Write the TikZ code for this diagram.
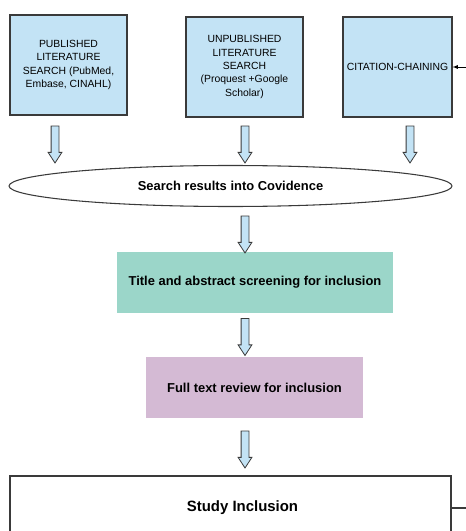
\documentclass[tikz,border=0pt]{standalone}
\usepackage{fontspec}
\setmainfont{Liberation Sans}
\usepackage{tikz}
\usetikzlibrary{shapes.geometric, shapes.arrows, arrows, positioning}
\definecolor{srcblue}{HTML}{C3E3F5}
\definecolor{screenteal}{HTML}{9BD6C9}
\definecolor{reviewpurple}{HTML}{D4BAD4}
\definecolor{edgegray}{HTML}{3A3A3A}
\tikzstyle{source} = [rectangle, minimum height=75pt, text centered, align=center, draw=edgegray, thick, fill=srcblue, font=\fontsize{7.8}{10}\selectfont, inner sep=0pt]
\tikzstyle{stage} = [rectangle, minimum height=45.75pt, text centered, draw=none, font=\fontsize{9.7}{12}\selectfont\bfseries]
\tikzstyle{flow} = [single arrow, draw=edgegray, semithick, fill=srcblue, rotate=-90, minimum height=37*0.75pt, minimum width=13*0.75pt, single arrow head extend=3*0.75pt, single arrow tip angle=66, single arrow head indent=0pt, inner xsep=0pt, inner ysep=3.5*0.75pt]
\tikzstyle{arrow} = [thin, draw=black, -latex]

\begin{document}
\begin{tikzpicture}[x=0.75pt, y=-0.75pt]
		
		\useasboundingbox (0,0) rectangle (466,531);
		\clip (0,0) rectangle (466,531);
		
		% search sources
		\node (pub) [source, minimum width=87.75pt] at (68.5,65) {PUBLISHED\\LITERATURE\\SEARCH (PubMed,\\Embase, CINAHL)};
		\node (unpub) [source, minimum width=87.75pt] at (244.5,67) {UNPUBLISHED\\LITERATURE\\SEARCH\\(Proquest +Google\\Scholar)};
		\node (cite) [source, minimum width=81.75pt] at (397.5,67) {CITATION-CHAINING};
		
		% covidence and screening
		\node (covid) [ellipse, draw=edgegray, thick, minimum width=332.25pt, minimum height=30.75pt, inner sep=0pt, font=\fontsize{9.7}{12}\selectfont\bfseries] at (230.5,186) {Search results into Covidence};
		\node (title) [stage, fill=screenteal, minimum width=207pt] at (255,282.5) {Title and abstract screening for inclusion};
		\node (full) [stage, fill=reviewpurple, minimum width=162.75pt] at (254.5,387.5) {Full text review for inclusion};
		\node (incl) [rectangle, draw=edgegray, thick, minimum width=330.75pt, minimum height=48pt, font=\fontsize{11.2}{14}\selectfont\bfseries] at (230.5,508) {\hspace*{18pt}Study Inclusion};
		
		% block arrows
		\node (f1) [flow] at (55,141.5) {};
		\node (f2) [flow] at (245,141.5) {};
		\node (f3) [flow] at (410,141.5) {};
		\node (f4) [flow] at (245,231.5) {};
		\node (f5) [flow] at (245,334) {};
		\node (f6) [flow] at (245,446.5) {};
		
		% loose ends at the right edge
		\coordinate (citein) at (466,67);
		\coordinate (inclout) at (466,508);
		\draw [arrow] (citein) -- (cite.east);
		\draw [thick, edgegray] (incl.east) -- (inclout);
		
	\end{tikzpicture}
\end{document}
